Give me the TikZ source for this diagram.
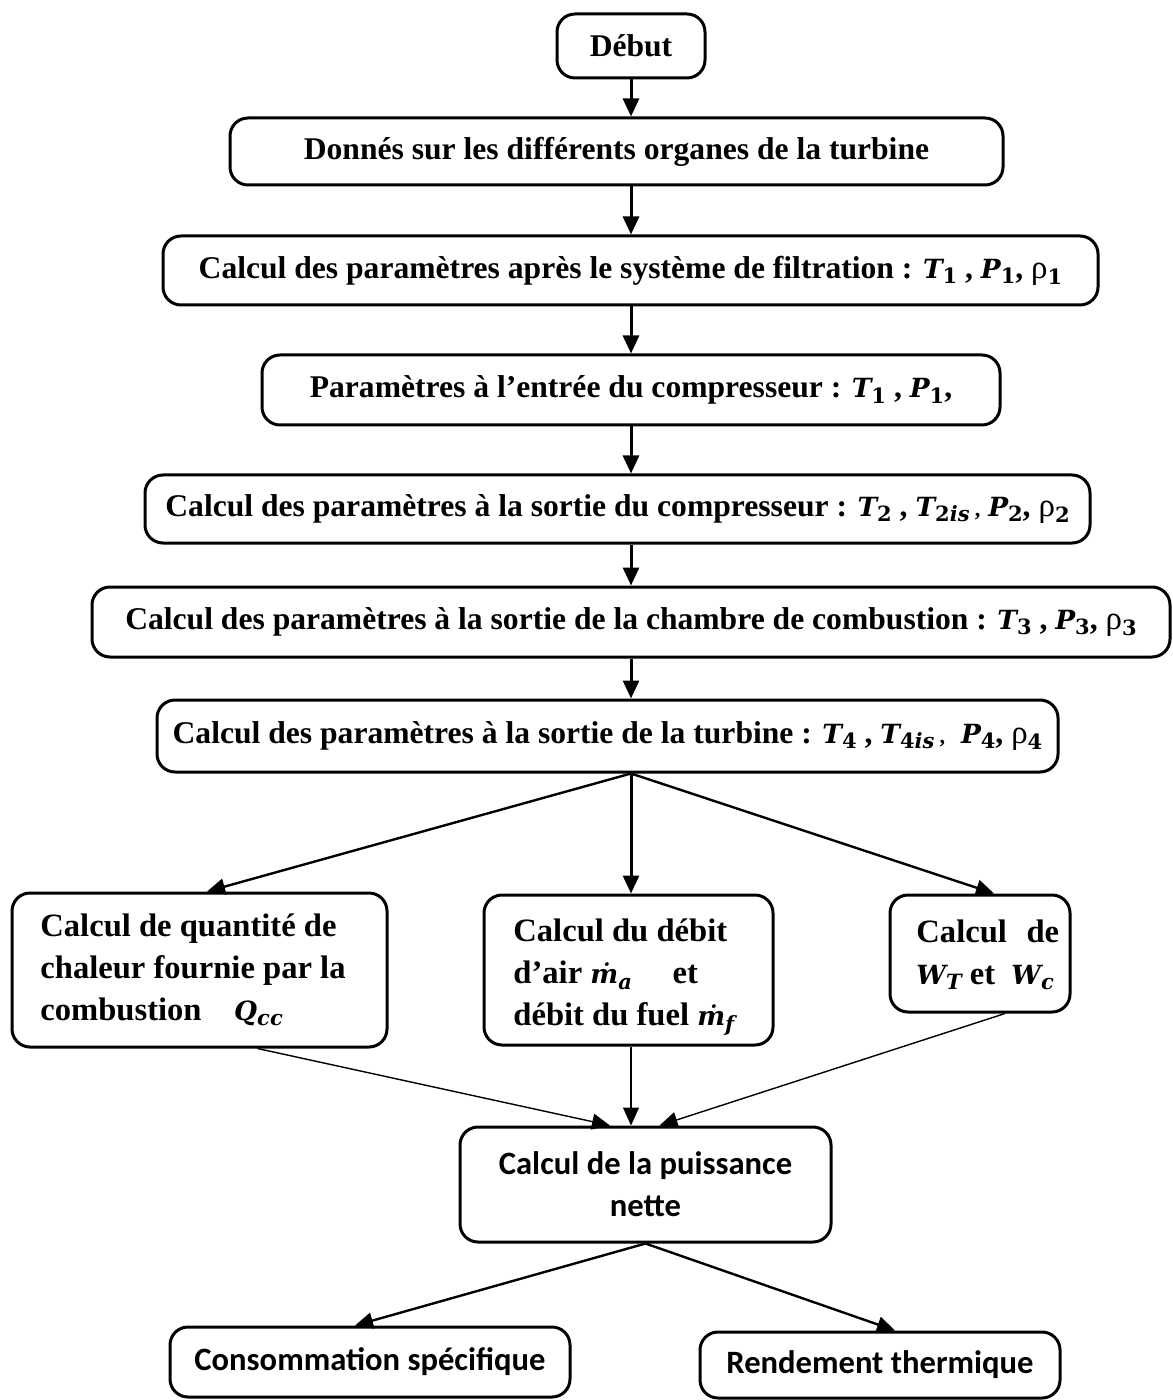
\documentclass[tikz,border=0pt]{standalone}
\usepackage{fontspec}
\setmainfont{Liberation Serif}
\newfontfamily\calib{Carlito}
\newfontfamily\mathf{DejaVu Serif}
\usetikzlibrary{arrows.meta}
\newcommand\lo[1]{\raisebox{-0.4ex}{\fontsize{10.5}{10.5}\selectfont #1}}
\newcommand\vv[2]{{\mathf\bfseries\fontsize{13.2}{13.2}\selectfont\itshape #1\lo{\upshape #2}}}
\newcommand\rh[1]{{\mdseries\fontsize{16.5}{16.5}\selectfont ρ\lo{\mathf\bfseries #1}}}
\begin{document}
\begin{tikzpicture}[x=0.5pt,y=-0.5pt,
  box/.style={draw, line width=1.5pt, rounded corners=9pt, inner sep=0pt,
    font=\bfseries\fontsize{15.8}{21}\selectfont},
  txt/.style={inner sep=0pt, anchor=west, align=left, font=\bfseries\fontsize{16.3}{21}\selectfont},
  cbox/.style={box, font=\calib\bfseries\fontsize{16.3}{21}\selectfont},
  arr/.style={line width=1.5pt, -{Triangle[length=9pt,width=8pt]}},
  thinarr/.style={line width=0.7pt, -{Triangle[length=9pt,width=8pt]}},
  midarr/.style={line width=1.2pt, -{Triangle[length=9pt,width=8pt]}}]
\useasboundingbox (0,0) rectangle (1172,1400);

\node[box, minimum width=74pt, minimum height=32pt] (debut) at (631,46) {Début};
\node[box, minimum width=386.5pt, minimum height=33.5pt] (donnes) at (616.5,151.5)
  {\raisebox{-0.3ex}{Donnés sur les différents organes de la turbine}};
\node[box, minimum width=467.5pt, minimum height=34.5pt] (filt) at (630.5,270.5)
  {Calcul des paramètres après le système de filtration : \vv{T}{1} , \vv{P}{1}, \rh{1}};
\node[box, minimum width=369pt, minimum height=35pt] (entree) at (631,390)
  {Paramètres à l’entrée du compresseur : \vv{T}{1} , \vv{P}{1},};
\node[box, minimum width=472.5pt, minimum height=34pt] (comp) at (617.5,509)
  {Calcul des paramètres à la sortie du compresseur : \vv{T}{2} , \vv{T}{2\itshape is}\,{\fontsize{11}{11}\selectfont,} \vv{P}{2}, \rh{2}};
\node[box, minimum width=539pt, minimum height=35pt] (chamb) at (631,622)
  {Calcul des paramètres à la sortie de la chambre de combustion : \vv{T}{3} , \vv{P}{3}, \rh{3}};
\node[box, minimum width=450.5pt, minimum height=36pt] (turb) at (607.5,736)
  {Calcul des paramètres à la sortie de la turbine : \vv{T}{4} , \vv{T}{4\itshape is}\,{\fontsize{11}{11}\selectfont,}\ \ \vv{P}{4}, \rh{4}};

\node[box, minimum width=187.5pt, minimum height=77pt] (left) at (199.5,970) {};
\node[txt] (lefttxt) at (40,970)
  {Calcul de quantité de\\chaleur fournie par la\\combustion\quad \vv{Q}{\itshape cc}};
\node[box, minimum width=144.5pt, minimum height=75pt] (mid) at (628.5,970) {};
\node[txt] (midtxt) at (513,977)
  {Calcul du débit\\d’air \vv{\.{m}}{\itshape a}\quad\ et\\débit du fuel \vv{\.{m}}{\itshape f}};
\node[box, minimum width=90pt, minimum height=58.5pt] (right) at (980,953.5) {};
\node[txt] (righttxt) at (916,955)
  {Calcul\hspace{0.6em}de\\\vv{W}{\itshape T} et\ \ \vv{W}{\itshape c}};

\node[cbox, minimum width=185.5pt, minimum height=57.5pt, align=center] (net) at (645.5,1184.5)
  {Calcul de la puissance\\nette};
\node[cbox, minimum width=200pt, minimum height=35pt] (cons) at (370,1362)
  {Consommation spécifique};
\node[cbox, minimum width=180pt, minimum height=33pt] (rend) at (880,1365)
  {Rendement thermique};

\draw[arr] (debut.south) -- (debut.south |- donnes.north);
\draw[arr] (debut.south |- donnes.south) -- (debut.south |- filt.north);
\draw[arr] (debut.south |- filt.south) -- (debut.south |- entree.north);
\draw[arr] (debut.south |- entree.south) -- (debut.south |- comp.north);
\draw[arr] (debut.south |- comp.south) -- (debut.south |- chamb.north);
\draw[arr] (debut.south |- chamb.south) -- (debut.south |- turb.north);

\coordinate (split) at (debut.south |- turb.south);
\draw[midarr] (split) -- ([xshift=3.75pt]left.north);
\draw[arr] (split) -- (split |- mid.north);
\draw[midarr] (split) -- ([xshift=7pt]right.north);

\draw[thinarr] ([xshift=29pt]left.south) -- ([xshift=-17.75pt]net.north);
\draw[thinarr] (split |- mid.south) -- (split |- net.north);
\draw[thinarr] ([xshift=12.5pt]right.south) -- ([xshift=7pt]net.north);

\draw[midarr] (net.south) -- ([xshift=-7.5pt]cons.north);
\draw[midarr] (net.south) -- ([xshift=7.5pt]rend.north);
\end{tikzpicture}
\end{document}
